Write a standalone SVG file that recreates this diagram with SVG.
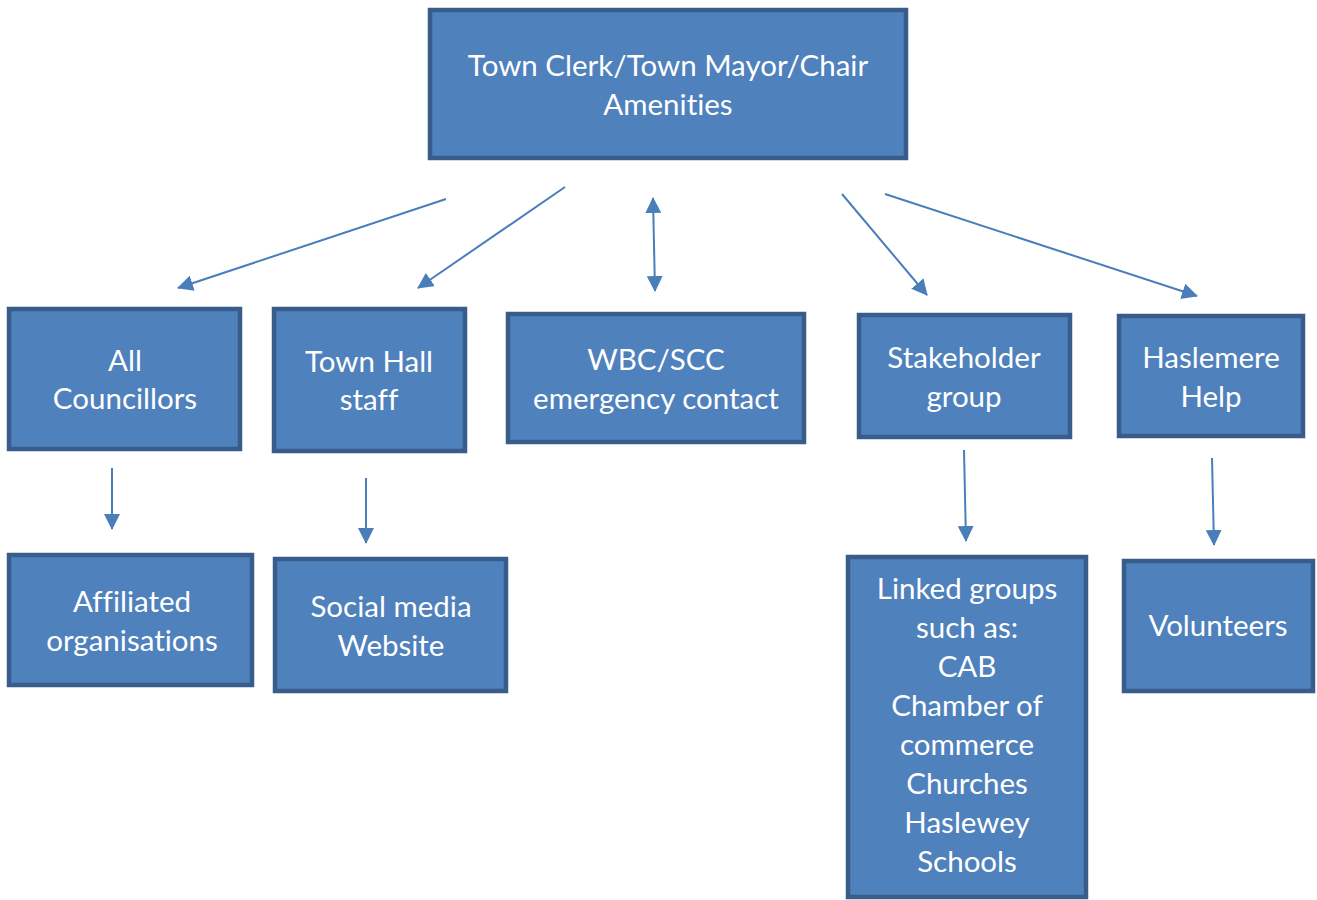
<svg xmlns="http://www.w3.org/2000/svg" width="1317" height="900" viewBox="0 0 1317 900">
<style>
.box{fill:#4F81BD;stroke:#385D8A;stroke-width:4.5;}
.t{fill:#FFFFFF;font-family:Lato,"Open Sans","Liberation Sans",sans-serif;font-size:29.5px;text-anchor:middle;font-variant-ligatures:none;}
.c{stroke:#4A7EBB;stroke-width:2;fill:none;marker-end:url(#ah);}
</style>
<defs>
<marker id="ah" markerUnits="userSpaceOnUse" markerWidth="16" markerHeight="16" refX="15" refY="8" orient="auto-start-reverse" viewBox="0 0 16 16">
<path d="M0,0 L16,8 L0,16 z" fill="#4A7EBB"/>
</marker>
</defs>
<rect width="1317" height="900" fill="#FFFFFF"/>
<g id="connectors">
<line class="c" x1="446" y1="199" x2="178" y2="288"/>
<line class="c" x1="565" y1="187" x2="418" y2="288"/>
<line class="c" x1="653" y1="198" x2="655" y2="291" style="marker-start:url(#ah)"/>
<line class="c" x1="842" y1="194" x2="927" y2="295"/>
<line class="c" x1="885" y1="194" x2="1197" y2="296"/>
<line class="c" x1="112" y1="468" x2="112" y2="529"/>
<line class="c" x1="366" y1="478" x2="366" y2="543"/>
<line class="c" x1="964" y1="450" x2="966" y2="541"/>
<line class="c" x1="1212" y1="458" x2="1214" y2="545"/>
</g>
<g id="top">
<rect class="box" x="430" y="10" width="476" height="148"/>
<text class="t" x="668" y="76">Town Clerk/Town Mayor/Chair</text>
<text class="t" x="668" y="115">Amenities</text>
</g>
<g id="councillors">
<rect class="box" x="9" y="309" width="231" height="140"/>
<text class="t" x="125" y="371">All</text>
<text class="t" x="125" y="409">Councillors</text>
</g>
<g id="townhall">
<rect class="box" x="274" y="309" width="191" height="142"/>
<text class="t" x="369" y="372">Town Hall</text>
<text class="t" x="369" y="410">staff</text>
</g>
<g id="wbc">
<rect class="box" x="508" y="314" width="296" height="128"/>
<text class="t" x="656" y="370">WBC/SCC</text>
<text class="t" x="656" y="409">emergency contact</text>
</g>
<g id="stakeholder">
<rect class="box" x="859" y="315" width="211" height="122"/>
<text class="t" x="964" y="368">Stakeholder</text>
<text class="t" x="964" y="407">group</text>
</g>
<g id="haslemere">
<rect class="box" x="1119" y="316" width="184" height="120"/>
<text class="t" x="1211" y="368">Haslemere</text>
<text class="t" x="1211" y="407">Help</text>
</g>
<g id="affiliated">
<rect class="box" x="9" y="555" width="243" height="130"/>
<text class="t" x="132" y="612">Affiliated</text>
<text class="t" x="132" y="651">organisations</text>
</g>
<g id="social">
<rect class="box" x="275" y="559" width="231" height="132"/>
<text class="t" x="391" y="617">Social media</text>
<text class="t" x="391" y="656">Website</text>
</g>
<g id="linked">
<rect class="box" x="848" y="557" width="238" height="340"/>
<text class="t" x="967" y="599">Linked groups</text>
<text class="t" x="967" y="638">such as:</text>
<text class="t" x="967" y="677">CAB</text>
<text class="t" x="967" y="716">Chamber of</text>
<text class="t" x="967" y="755">commerce</text>
<text class="t" x="967" y="794">Churches</text>
<text class="t" x="967" y="833">Haslewey</text>
<text class="t" x="967" y="872">Schools</text>
</g>
<g id="volunteers">
<rect class="box" x="1124" y="561" width="189" height="130"/>
<text class="t" x="1218" y="636">Volunteers</text>
</g>
</svg>
